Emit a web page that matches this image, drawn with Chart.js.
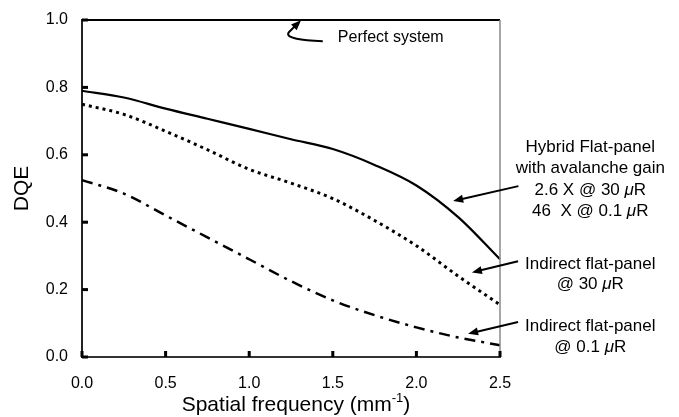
<!DOCTYPE html>
<html>
<head>
<meta charset="utf-8">
<script src="https://cdn.jsdelivr.net/npm/chart.js@4/dist/chart.umd.min.js"></script>
<style>
  html, body { margin: 0; padding: 0; background: #fff; }
  #wrap { width: 679px; height: 417px; }
</style>
</head>
<body>
<div id="wrap"><canvas id="dqe" width="679" height="417"></canvas></div>
<script>
// spatial frequency (mm-1) and DQE
var freq = [0, 0.25, 0.5, 0.75, 1.0, 1.25, 1.5, 1.75, 2.0, 2.25, 2.5];
var perfect = [1, 1, 1, 1, 1, 1, 1, 1, 1, 1, 1];
var hybrid = [0.79, 0.77, 0.737, 0.707, 0.677, 0.646, 0.617, 0.57, 0.509, 0.415, 0.29];
var indirect30 = [0.75, 0.72, 0.67, 0.615, 0.557, 0.516, 0.47, 0.405, 0.33, 0.24, 0.155];
var indirect01 = [0.525, 0.485, 0.42, 0.355, 0.29, 0.225, 0.168, 0.124, 0.088, 0.058, 0.035];

var xTicks = [0, 0.5, 1.0, 1.5, 2.0, 2.5];
var yTicks = [0, 0.2, 0.4, 0.6, 0.8, 1.0];

var FONT = "'Liberation Sans', Arial, sans-serif";

function pts(ys) {
  return freq.map(function (f, i) { return {x: f, y: ys[i]}; });
}

function line(label, ys, width, dash) {
  return {
    label: label,
    data: pts(ys),
    borderColor: '#000',
    borderWidth: width,
    borderDash: dash,
    borderCapStyle: 'butt',
    pointRadius: 0,
    fill: false,
    cubicInterpolationMode: 'monotone',
    clip: 6
  };
}

// draws a line of text where some parts are italic (the mu)
function richText(ctx, parts, cx, cy, size) {
  var total = 0;
  parts.forEach(function (p) {
    ctx.font = (p[1] ? 'italic ' : '') + size + 'px ' + FONT;
    total += ctx.measureText(p[0]).width;
  });
  var x = cx - total / 2;
  ctx.textAlign = 'left';
  ctx.textBaseline = 'middle';
  parts.forEach(function (p) {
    ctx.font = (p[1] ? 'italic ' : '') + size + 'px ' + FONT;
    ctx.fillText(p[0], x, cy);
    x += ctx.measureText(p[0]).width;
  });
}

function arrowHead(ctx, fx, fy, tx, ty) {
  var a = Math.atan2(ty - fy, tx - fx);
  var len = 10, half = 4;
  ctx.beginPath();
  ctx.moveTo(tx, ty);
  ctx.lineTo(tx - len * Math.cos(a) + half * Math.sin(a), ty - len * Math.sin(a) - half * Math.cos(a));
  ctx.lineTo(tx - len * Math.cos(a) - half * Math.sin(a), ty - len * Math.sin(a) + half * Math.cos(a));
  ctx.closePath();
  ctx.fill();
}

// labels on the right, in data units (x beyond 2.5 falls right of the plot)
var notes = [
  {x: 3.04, y: 0.622, parts: [['Hybrid Flat-panel']]},
  {x: 3.04, y: 0.559, parts: [['with avalanche gain']]},
  {x: 3.04, y: 0.496, parts: [['2.6 X @ 30 '], ['\u03bc', true], ['R']]},
  {x: 3.04, y: 0.433, parts: [['46  X @ 0.1 '], ['\u03bc', true], ['R']]},
  {x: 3.04, y: 0.276, parts: [['Indirect flat-panel']]},
  {x: 3.04, y: 0.215, parts: [['@ 30 '], ['\u03bc', true], ['R']]},
  {x: 3.04, y: 0.09, parts: [['Indirect flat-panel']]},
  {x: 3.04, y: 0.03, parts: [['@ 0.1 '], ['\u03bc', true], ['R']]}
];
var arrows = [
  {from: [2.61, 0.507], to: [2.22, 0.463]},
  {from: [2.608, 0.284], to: [2.332, 0.251]},
  {from: [2.608, 0.104], to: [2.309, 0.069]}
];

var extras = {
  id: 'extras',
  afterDraw: function (chart) {
    var ctx = chart.ctx;
    var xs = chart.scales.x, ys = chart.scales.y;
    var a = chart.chartArea;
    var X = function (v) { return xs.getPixelForValue(v); };
    var Y = function (v) { return ys.getPixelForValue(v); };
    ctx.save();

    // gray right frame
    ctx.strokeStyle = '#8a8a8a';
    ctx.lineWidth = 1.5;
    ctx.beginPath();
    ctx.moveTo(a.right, a.top);
    ctx.lineTo(a.right, a.bottom);
    ctx.stroke();

    // tick marks pointing inward
    ctx.fillStyle = '#000';
    yTicks.forEach(function (v) { ctx.fillRect(a.left, Y(v) - 1.5, 6, 3); });
    xTicks.forEach(function (v) { ctx.fillRect(X(v) - 1.5, a.bottom - 6, 3, 6); });

    // notes and arrows
    ctx.fillStyle = '#000';
    notes.forEach(function (n) { richText(ctx, n.parts, X(n.x), Y(n.y), 17); });
    ctx.strokeStyle = '#000';
    ctx.lineWidth = 2;
    arrows.forEach(function (r) {
      var fx = X(r.from[0]), fy = Y(r.from[1]), tx = X(r.to[0]), ty = Y(r.to[1]);
      var ang = Math.atan2(ty - fy, tx - fx);
      ctx.beginPath();
      ctx.moveTo(fx, fy);
      ctx.lineTo(tx - 8 * Math.cos(ang), ty - 8 * Math.sin(ang));
      ctx.stroke();
      arrowHead(ctx, fx, fy, tx, ty);
    });

    // curly pointer to the perfect line
    ctx.beginPath();
    ctx.moveTo(X(1.44), Y(0.937));
    ctx.bezierCurveTo(X(1.33), Y(0.94), X(1.2), Y(0.945), X(1.24), Y(0.965));
    ctx.quadraticCurveTo(X(1.27), Y(0.98), X(1.29), Y(0.99));
    ctx.stroke();
    arrowHead(ctx, X(1.24), Y(0.965), X(1.31), Y(0.999));
    ctx.font = '16px ' + FONT;
    ctx.textAlign = 'left';
    ctx.textBaseline = 'middle';
    ctx.fillText('Perfect system', X(1.53), Y(0.948));

    // axis titles
    ctx.font = '21px ' + FONT;
    ctx.textBaseline = 'middle';
    ctx.save();
    ctx.translate(22, (a.top + a.bottom) / 2);
    ctx.rotate(-Math.PI / 2);
    ctx.textAlign = 'center';
    ctx.fillText('DQE', 0, 0);
    ctx.restore();

    var t1 = 'Spatial frequency (mm', sup = '-1', t2 = ')';
    ctx.font = '21px ' + FONT;
    var w1 = ctx.measureText(t1).width, w2 = ctx.measureText(t2).width;
    ctx.font = '13px ' + FONT;
    var ws = ctx.measureText(sup).width;
    var x0 = (a.left + a.right) / 2 + 5 - (w1 + ws + w2) / 2;
    var ty = 405;
    ctx.textAlign = 'left';
    ctx.font = '21px ' + FONT;
    ctx.fillText(t1, x0, ty);
    ctx.font = '13px ' + FONT;
    ctx.fillText(sup, x0 + w1, ty - 7);
    ctx.font = '21px ' + FONT;
    ctx.fillText(t2, x0 + w1 + ws, ty);

    ctx.restore();
  }
};

new Chart(document.getElementById('dqe'), {
  type: 'line',
  data: {
    datasets: [
      line('Perfect system', perfect, 2.2, []),
      line('Hybrid flat-panel', hybrid, 2.2, []),
      line('Indirect flat-panel @ 30 uR', indirect30, 3, [3, 4]),
      line('Indirect flat-panel @ 0.1 uR', indirect01, 2.5, [11, 6, 3, 6])
    ]
  },
  options: {
    responsive: false,
    animation: false,
    layout: {padding: {left: 0, right: 179, top: 20, bottom: 0}},
    plugins: {legend: {display: false}, tooltip: {enabled: false}},
    scales: {
      x: {
        type: 'linear',
        min: 0,
        max: 2.5,
        afterBuildTicks: function (s) { s.ticks = xTicks.map(function (v) { return {value: v}; }); },
        afterFit: function (s) { s.height = 60; s.paddingLeft = 0; s.paddingRight = 0; },
        ticks: {
          padding: 17,
          color: '#000',
          font: {family: FONT, size: 16},
          callback: function (v) { return v.toFixed(1); }
        },
        grid: {drawOnChartArea: false, drawTicks: false},
        border: {color: '#333', width: 2}
      },
      y: {
        min: 0,
        max: 1,
        afterBuildTicks: function (s) { s.ticks = yTicks.map(function (v) { return {value: v}; }); },
        afterFit: function (s) { s.width = 82; s.paddingTop = 0; s.paddingBottom = 0; },
        ticks: {
          padding: 14,
          color: '#000',
          font: {family: FONT, size: 16},
          callback: function (v) { return v.toFixed(1); }
        },
        grid: {drawOnChartArea: false, drawTicks: false},
        border: {color: '#222', width: 2}
      }
    }
  },
  plugins: [extras]
});
</script>
</body>
</html>
